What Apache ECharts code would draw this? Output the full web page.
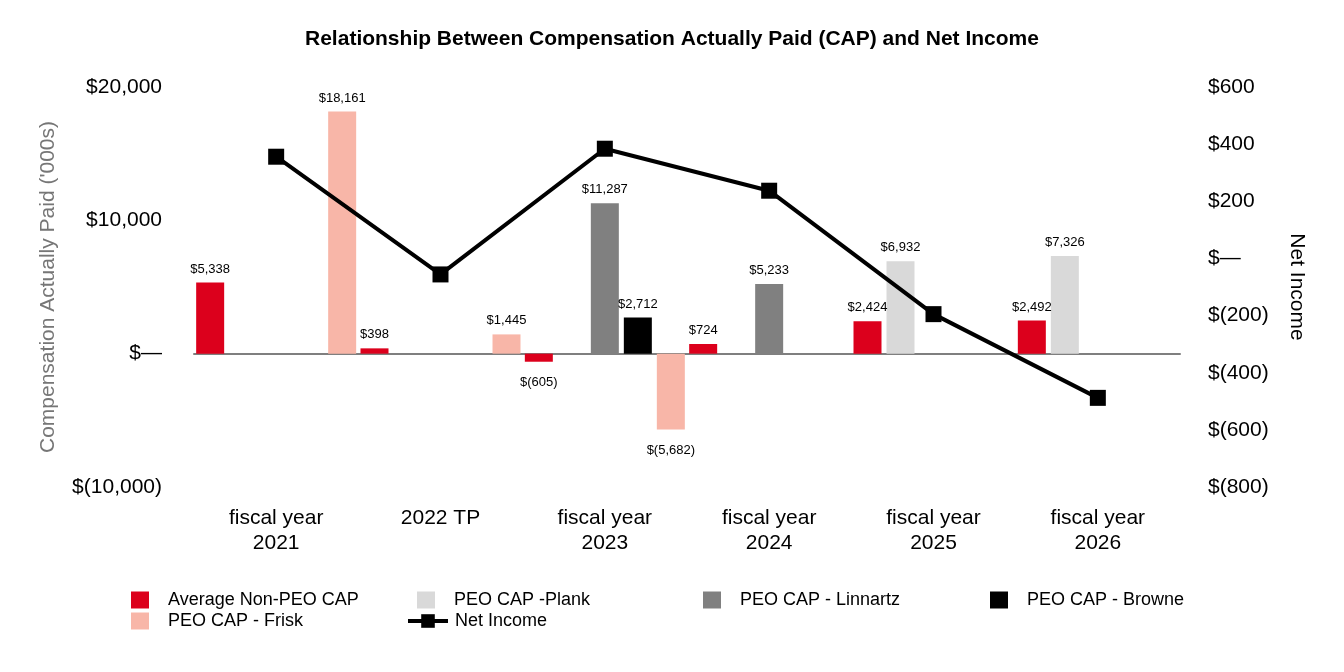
<!DOCTYPE html>
<html style="height: 100%">
<head>
    <meta charset="utf-8">
    <script src="https://cdn.jsdelivr.net/npm/echarts@6/dist/echarts.min.js"></script>
</head>
<body style="height: 100%;margin: 0;background: #fff">
<div id="chart" style="width: 1344px;height: 672px;"></div>
<script type="text/javascript">
// categories and values (in $000s, net income in $M)
var categories = ['fiscal year\n2021', '2022 TP', 'fiscal year\n2023', 'fiscal year\n2024', 'fiscal year\n2025', 'fiscal year\n2026'];
var nonPeoCap = [5338, 398, -605, 724, 2424, 2492];
var plankCap = [null, null, null, null, 6932, 7326];
var linnartzCap = [null, null, 11287, 5233, null, null];
var browneCap = [null, null, 2712, null, null, null];
var friskCap = [18161, 1445, -5682, null, null, null];
var netIncome = [356, -56, 384, 237, -195, -488];

var FONT = 'Liberation Sans, Arial, sans-serif';

function money(v) {
    if (v === 0) return '$\u2014';
    if (v < 0) return '$(' + Math.abs(v).toLocaleString('en-US') + ')';
    return '$' + v.toLocaleString('en-US');
}

// negative bars get their label under the bar
function barData(vals) {
    return vals.map(function (v) {
        if (v == null) return null;
        if (v < 0) return {value: v, label: {position: 'bottom', distance: 14}};
        return v;
    });
}

function barSeries(name, vals, color) {
    return {
        name: name,
        type: 'bar',
        data: barData(vals),
        barWidth: 28,
        barGap: '17.86%',
        itemStyle: {color: color},
        label: {
            show: true,
            position: 'top',
            distance: 7,
            fontFamily: FONT,
            fontSize: 13,
            color: '#000',
            formatter: function (p) { return money(p.value); }
        }
    };
}

function legendAt(name, left, top, isLine) {
    var l = {
        data: [name],
        left: left,
        top: top,
        padding: 0,
        itemWidth: isLine ? 40 : 18,
        itemHeight: 17,
        selectedMode: false,
        textStyle: {fontFamily: FONT, fontSize: 18, color: '#000', padding: [0, 0, 0, isLine ? 2 : 14]}
    };
    if (!isLine) l.icon = 'rect';
    else l.lineStyle = {width: 4};
    return l;
}

var myChart = echarts.init(document.getElementById('chart'));
var option = {
    backgroundColor: '#fff',
    animation: false,
    title: {
        text: 'Relationship Between Compensation Actually Paid (CAP) and Net Income',
        left: 'center',
        top: 24,
        textStyle: {fontFamily: FONT, fontSize: 21, fontWeight: 'bold', color: '#000'}
    },
    legend: [
        legendAt('Average Non-PEO CAP', 131, 591),
        legendAt('PEO CAP -Plank', 417, 591),
        legendAt('PEO CAP - Linnartz', 703, 591),
        legendAt('PEO CAP - Browne', 990, 591),
        legendAt('PEO CAP - Frisk', 131, 612),
        legendAt('Net Income', 406, 612, true)
    ],
    grid: {left: 194, right: 164, top: 87, bottom: 185},
    xAxis: [
        {
            type: 'category',
            data: categories,
            axisLine: {show: false, onZero: false},
            axisTick: {show: false},
            axisLabel: {
                fontFamily: FONT, fontSize: 21, lineHeight: 25, color: '#000', margin: 19
            }
        },
        {
            type: 'category',
            data: categories,
            axisLine: {show: true, onZero: true, onZeroAxisIndex: 0, lineStyle: {color: '#7f7f7f', width: 2}},
            axisTick: {show: false},
            axisLabel: {show: false}
        }
    ],
    yAxis: [
        {
            type: 'value',
            min: -10000,
            max: 20000,
            interval: 10000,
            splitLine: {show: false},
            axisLine: {show: false},
            axisTick: {show: false},
            axisLabel: {
                fontFamily: FONT, fontSize: 21, color: '#000', margin: 32,
                formatter: money
            },
            name: "Compensation Actually Paid ('000s)",
            nameLocation: 'middle',
            nameRotate: 90,
            nameGap: 135,
            nameTextStyle: {fontFamily: FONT, fontSize: 21, color: '#767676'}
        },
        {
            type: 'value',
            min: -800,
            max: 600,
            interval: 200,
            splitLine: {show: false},
            axisLine: {show: false},
            axisTick: {show: false},
            axisLabel: {
                fontFamily: FONT, fontSize: 21, color: '#000', margin: 28,
                formatter: money
            },
            name: 'Net Income',
            nameLocation: 'middle',
            nameRotate: -90,
            nameGap: 106,
            nameTextStyle: {fontFamily: FONT, fontSize: 21, color: '#000'}
        }
    ],
    series: [
        barSeries('Average Non-PEO CAP', nonPeoCap, '#dc001c'),
        barSeries('PEO CAP -Plank', plankCap, '#d9d9d9'),
        barSeries('PEO CAP - Linnartz', linnartzCap, '#808080'),
        barSeries('PEO CAP - Browne', browneCap, '#000000'),
        barSeries('PEO CAP - Frisk', friskCap, '#f8b6a8'),
        {
            name: 'Net Income',
            type: 'line',
            yAxisIndex: 1,
            data: netIncome,
            symbol: 'rect',
            symbolSize: 16,
            z: 5,
            lineStyle: {color: '#000', width: 4},
            itemStyle: {color: '#000'}
        }
    ]
};
myChart.setOption(option);
</script>
</body>
</html>
